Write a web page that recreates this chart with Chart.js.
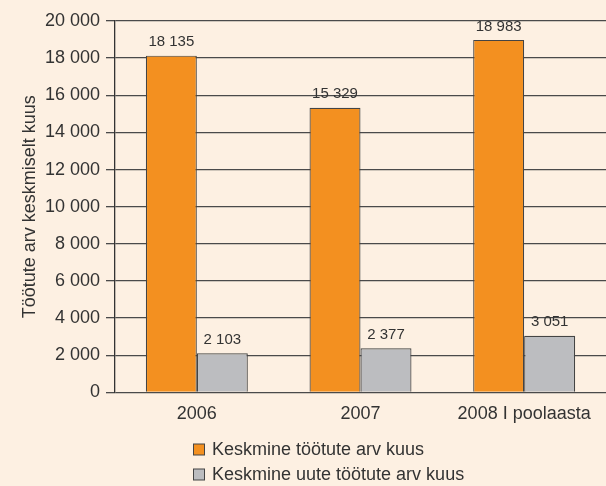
<!DOCTYPE html>
<html>
<head>
<meta charset="utf-8">
<script src="https://cdn.jsdelivr.net/npm/chart.js@4/dist/chart.umd.min.js"></script>
<style>
  html, body { margin: 0; padding: 0; background: #fdf0e2; }
  #wrap { width: 606px; height: 486px; position: relative; }
</style>
</head>
<body>
<div id="wrap"><canvas id="chart"></canvas></div>
<script>
// data
const categories = ["2006", "2007", "2008 I poolaasta"];
const seriesNames = ["Keskmine töötute arv kuus", "Keskmine uute töötute arv kuus"];
const avgUnemployed = [18135, 15329, 18983];
const avgNewUnemployed = [2103, 2377, 3051];
const yTicks = [0, 2000, 4000, 6000, 8000, 10000, 12000, 14000, 16000, 18000, 20000];

const textColor = "#333333";
const fontFamily = "'Liberation Sans', Arial, sans-serif";

function fmt(n) {
    return String(n).replace(/\B(?=(\d{3})+(?!\d))/g, " ");
}

// value labels above each bar
const valueLabels = {
    id: "valueLabels",
    afterDatasetsDraw(chart) {
        const ctx = chart.ctx;
        ctx.save();
        ctx.font = "15px " + fontFamily;
        ctx.fillStyle = textColor;
        ctx.textAlign = "center";
        ctx.textBaseline = "bottom";
        chart.data.datasets.forEach((ds, i) => {
            chart.getDatasetMeta(i).data.forEach((bar, j) => {
                ctx.fillText(fmt(ds.data[j]), bar.x, bar.y - 6);
            });
        });
        ctx.restore();
    }
};

// stacked legend under the axis labels
const stackedLegend = {
    id: "stackedLegend",
    afterDraw(chart) {
        const ctx = chart.ctx;
        ctx.save();
        ctx.font = "18px " + fontFamily;
        ctx.textBaseline = "middle";
        chart.data.datasets.forEach((ds, i) => {
            const y = 450 + i * 25;
            ctx.fillStyle = ds.backgroundColor;
            ctx.fillRect(193.5, y - 6, 11, 11);
            ctx.strokeStyle = "#444";
            ctx.lineWidth = 1;
            ctx.strokeRect(193.5, y - 6, 11, 11);
            ctx.fillStyle = textColor;
            ctx.fillText(ds.label, 212, y);
        });
        ctx.restore();
    }
};

new Chart(document.getElementById("chart"), {
    type: "bar",
    data: {
        labels: categories,
        datasets: [
            {
                label: seriesNames[0],
                data: avgUnemployed,
                backgroundColor: "#f39020",
                borderColor: "#444",
                borderWidth: 1.2
            },
            {
                label: seriesNames[1],
                data: avgNewUnemployed,
                backgroundColor: "#bcbdc0",
                borderColor: "#444",
                borderWidth: 1.2
            }
        ]
    },
    options: {
        responsive: true,
        maintainAspectRatio: false,
        animation: false,
        layout: { padding: { top: 21, right: 0, bottom: 50, left: 0 } },
        datasets: {
            bar: { categoryPercentage: 0.623, barPercentage: 1 }
        },
        plugins: {
            legend: { display: false },
            tooltip: { enabled: false }
        },
        scales: {
            x: {
                grid: { display: false, drawTicks: false },
                border: { display: false },
                ticks: {
                    color: textColor,
                    padding: 11,
                    font: { size: 18, family: fontFamily }
                }
            },
            y: {
                min: 0,
                max: 20000,
                afterBuildTicks(scale) {
                    scale.ticks = yTicks.map(v => ({ value: v }));
                },
                afterFit(scale) {
                    scale.width = 115;
                },
                grid: {
                    color: "#4a4a4a",
                    lineWidth: 1.3,
                    tickLength: 9
                },
                border: { color: "#333", width: 1.3 },
                ticks: {
                    color: textColor,
                    padding: 6,
                    font: { size: 18, family: fontFamily },
                    callback: v => fmt(v)
                },
                title: {
                    display: true,
                    text: "Töötute arv keskmiselt kuus",
                    color: textColor,
                    font: { size: 18, family: fontFamily },
                    padding: { top: 19, bottom: 0 }
                }
            }
        }
    },
    plugins: [valueLabels, stackedLegend]
});
</script>
</body>
</html>
